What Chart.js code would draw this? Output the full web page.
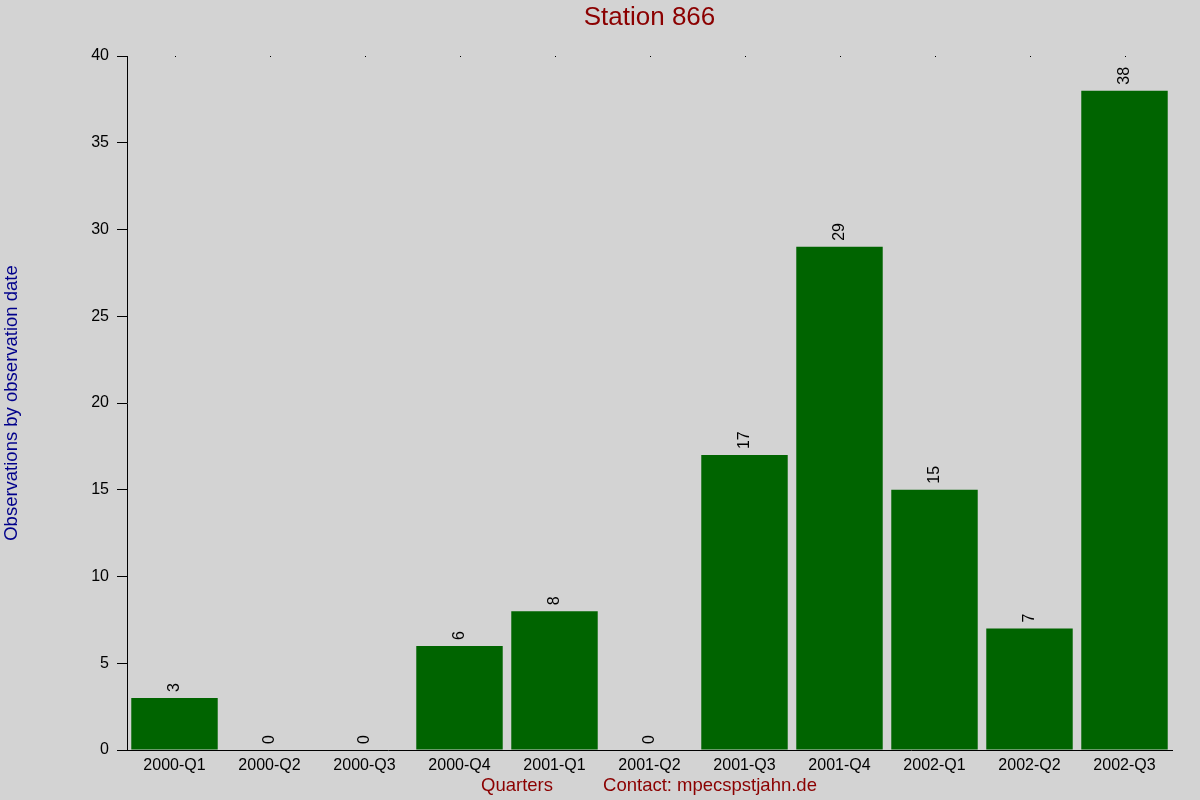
<!DOCTYPE html>
<html>
<head>
<meta charset="utf-8">
<title>Station 866</title>
<script src="https://cdn.jsdelivr.net/npm/chart.js@4/dist/chart.umd.min.js"></script>
<style>
  html, body { margin: 0; padding: 0; background: #d3d3d3; }
  #wrap { width: 1200px; height: 800px; }
</style>
</head>
<body>
<div id="wrap"><canvas id="chart" width="1200" height="800"></canvas></div>
<script>
// ===== data =====
const quarters = ["2000-Q1", "2000-Q2", "2000-Q3", "2000-Q4", "2001-Q1", "2001-Q2",
                  "2001-Q3", "2001-Q4", "2002-Q1", "2002-Q2", "2002-Q3"];
const observations = [3, 0, 0, 6, 8, 0, 17, 29, 15, 7, 38];
const yTicks = [0, 5, 10, 15, 20, 25, 30, 35, 40];

const chartTitle = "Station 866";
const yTitle = "Observations by observation date";
const xTitle = "Quarters";
const contact = "Contact: mpecspstjahn.de";

const FONT = "'Liberation Sans', Arial, sans-serif";

// background + texts + bar value labels
const decor = {
    id: 'decor',
    beforeDraw(chart) {
        const c = chart.ctx;
        c.save();
        c.fillStyle = '#d3d3d3';
        c.fillRect(0, 0, chart.width, chart.height);
        c.restore();
    },
    afterDraw(chart) {
        const c = chart.ctx;
        const area = chart.chartArea;
        const xs = chart.scales.x;
        const ys = chart.scales.y;
        c.save();

        // title
        c.fillStyle = '#8b0000';
        c.font = '26px ' + FONT;
        c.textAlign = 'center';
        c.textBaseline = 'middle';
        c.fillText(chartTitle, (area.left + area.right) / 2, 18);

        // axis titles
        c.font = '18.5px ' + FONT;
        c.fillText(xTitle, 517, 786);
        c.fillText(contact, 710, 786);

        c.save();
        c.translate(12, (area.top + area.bottom) / 2);
        c.rotate(-Math.PI / 2);
        c.fillStyle = '#00008b';
        c.fillText(yTitle, 0, 0);
        c.restore();

        // little dots on top edge
        c.fillStyle = '#000';
        quarters.forEach((q, i) => {
            c.fillRect(Math.round(xs.getPixelForValue(i)), area.top, 1, 1);
        });

        // values above bars
        c.font = '16px ' + FONT;
        c.fillStyle = '#000';
        c.textAlign = 'left';
        c.textBaseline = 'middle';
        const meta = chart.getDatasetMeta(0);
        meta.data.forEach((bar, i) => {
            c.save();
            c.translate(bar.x, ys.getPixelForValue(observations[i]) - 6);
            c.rotate(-Math.PI / 2);
            c.fillText(String(observations[i]), 0, 0);
            c.restore();
        });
        c.restore();
    }
};

const ctx = document.getElementById('chart').getContext('2d');
new Chart(ctx, {
    type: 'bar',
    data: {
        labels: quarters,
        datasets: [{
            data: observations,
            backgroundColor: '#006400',
            borderWidth: 0,
            categoryPercentage: 1.0,
            barPercentage: 0.91
        }]
    },
    options: {
        responsive: false,
        animation: false,
        devicePixelRatio: 1,
        layout: { padding: { left: 0, right: 28, top: 56, bottom: 0 } },
        plugins: {
            legend: { display: false },
            title: { display: false },
            tooltip: { enabled: false }
        },
        scales: {
            x: {
                grid: { display: false, drawTicks: false },
                border: { display: true, color: '#000', width: 1 },
                ticks: { color: '#000', font: { size: 16, family: FONT }, padding: 6, maxRotation: 0, autoSkip: false },
                afterFit(scale) { scale.height = 50; }
            },
            y: {
                min: 0,
                max: 40,
                afterBuildTicks(scale) { scale.ticks = yTicks.map(v => ({ value: v })); },
                grid: { drawOnChartArea: false, drawTicks: true, tickLength: 10, color: '#000' },
                border: { display: true, color: '#000', width: 1 },
                ticks: { color: '#000', font: { size: 16, family: FONT }, padding: 8 },
                afterFit(scale) { scale.width = 127; }
            }
        }
    },
    plugins: [decor]
});
</script>
</body>
</html>
